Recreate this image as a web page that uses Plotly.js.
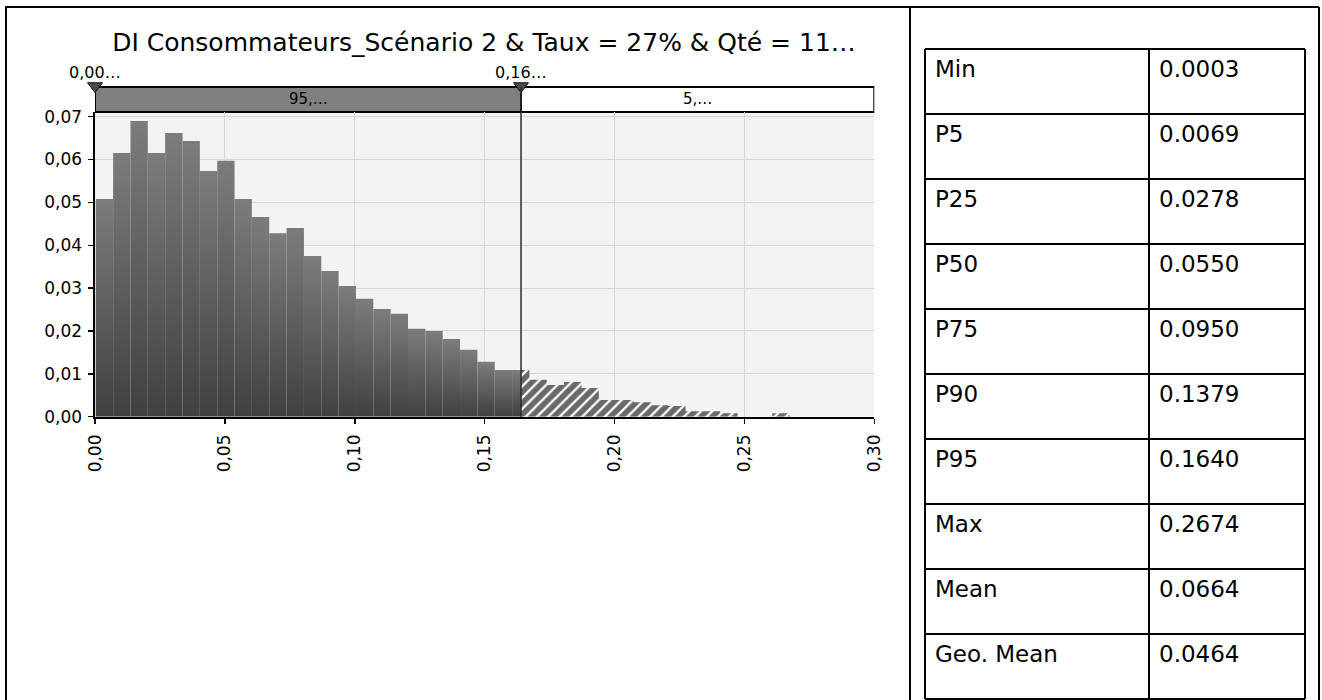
<!DOCTYPE html>
<html>
<head>
<meta charset="utf-8">
<script src="https://cdn.plot.ly/plotly-3.0.1.min.js"></script>
<style>html,body{margin:0;padding:0;background:#fff;}#chart{width:1322px;height:700px;}</style>
</head>
<body>
<div id="chart"></div>
<script>
// ---------- DATA ----------
const chartTitle = 'DI Consommateurs_Scénario 2 & Taux = 27% & Qté = 11…';
const binMin = 0.0003;
const binMax = 0.2674;
const relFreq = [
  0.0508, 0.0615, 0.0690, 0.0615, 0.0662, 0.0643, 0.0573, 0.0597, 0.0508, 0.0466,
  0.0428, 0.0440, 0.0375, 0.0340, 0.0305, 0.0275, 0.0251, 0.0240, 0.0205, 0.0200,
  0.0181, 0.0156, 0.0128, 0.0109, 0.0109, 0.0086, 0.0074, 0.0081, 0.0067, 0.0039,
  0.0039, 0.0034, 0.0027, 0.0025, 0.0013, 0.0013, 0.0008, 0.0000, 0.0000, 0.0008
];
const delimValues = [0.0, 0.164];
const delimLabels = ['0,00…', '0,16…'];
const bandLabels = ['95,…', '5,…'];
const xTickVals = [0, 0.05, 0.10, 0.15, 0.20, 0.25, 0.30];
const statLabels = ['Min', 'P5', 'P25', 'P50', 'P75', 'P90', 'P95', 'Max', 'Mean', 'Geo. Mean'];
const statValues = ['0.0003', '0.0069', '0.0278', '0.0550', '0.0950', '0.1379', '0.1640', '0.2674', '0.0664', '0.0464'];

// ---------- LAYOUT HELPERS ----------
const W = 1322, H = 700;
const px = x => x / W;
const py = y => 1 - y / H;
const FONT = 'DejaVu Sans, Verdana, sans-serif';
const plotLeft = 95, plotRight = 874.3, plotBottom = 416.7, plotTop = 112;
const xMax = 0.30;
const yPerUnit = 4286;
const yMax = (plotBottom - plotTop) / yPerUnit;

// ---------- TRACES ----------
const nBins = relFreq.length;
const bw = (binMax - binMin) / nBins;
const traces = [];
const cut = delimValues[1];
// solid (gradient) bars left of the cut
for (let i = 0; i < nBins; i++) {
  const a = binMin + i * bw;
  let b = binMin + (i + 1) * bw;
  if (a >= cut) break;
  if (b > cut) b = cut;
  const h = relFreq[i];
  traces.push({
    type: 'scatter', mode: 'none', x: [a, a, b, b, a], y: [0, h, h, 0, 0],
    fill: 'toself', hoverinfo: 'skip',
    fillgradient: {type: 'vertical', start: 0, stop: h,
      colorscale: [[0, '#404040'], [1, '#7c7c7c']]}
  });
}
// hatched tail right of the cut
const hx = [cut], hy = [0];
for (let i = 0; i < nBins; i++) {
  const a = binMin + i * bw, b = binMin + (i + 1) * bw;
  if (b <= cut) continue;
  const h = relFreq[i];
  hx.push(Math.max(a, cut), b);
  hy.push(h, h);
}
hx.push(binMin + nBins * bw, cut);
hy.push(0, 0);
traces.push({
  type: 'scatter', mode: 'none', x: hx, y: hy, fill: 'toself', hoverinfo: 'skip',
  fillcolor: '#696969',
  fillpattern: {shape: '/', bgcolor: '#696969', fgcolor: '#ffffff', size: 8, solidity: 0.28}
});
// delimiter triangles (on a helper subplot above the plot area)
traces.push({
  type: 'scatter', mode: 'markers', x: delimValues, y: delimValues.map(() => 0.5),
  xaxis: 'x2', yaxis: 'y2', cliponaxis: false, hoverinfo: 'skip',
  marker: {symbol: 'triangle-down', size: 13, color: '#4a4a4a', line: {color: '#111', width: 1}}
});

// ---------- SHAPES / ANNOTATIONS ----------
const shapes = [];
const annotations = [];
// plot background
shapes.push({type: 'rect', layer: 'below', xref: 'x domain', yref: 'y domain', x0: 0, x1: 1, y0: 0, y1: 1,
  fillcolor: '#f3f3f3', line: {width: 0}});
// band strip
const bandEdges = [delimValues[0], delimValues[1], xMax];
const bandFill = ['#808080', '#ffffff'];
for (let k = 0; k < 2; k++) {
  shapes.push({type: 'rect', layer: 'below', xref: 'x', yref: 'paper',
    x0: bandEdges[k], x1: bandEdges[k + 1], y0: py(112), y1: py(87),
    fillcolor: bandFill[k], line: {color: '#000', width: 2}});
  annotations.push({xref: 'x', yref: 'paper', x: (bandEdges[k] + bandEdges[k + 1]) / 2, y: py(99.5),
    text: bandLabels[k], showarrow: false, xanchor: 'center', yanchor: 'middle',
    font: {family: FONT, size: 15, color: '#000'}});
}
// delimiter labels
delimValues.forEach((v, k) => {
  annotations.push({xref: 'x', yref: 'paper', x: v, y: py(72), text: delimLabels[k],
    showarrow: false, xanchor: 'center', yanchor: 'middle',
    font: {family: FONT, size: 16, color: '#000'}});
});
// cut line
shapes.push({type: 'line', layer: 'above', xref: 'x', yref: 'paper', x0: cut, x1: cut,
  y0: py(plotBottom), y1: py(87), line: {color: '#2a2a2a', width: 1.5}});
// outer frames
const frame = {color: '#000', width: 2};
shapes.push({type: 'line', xref: 'paper', yref: 'paper', x0: px(5), x1: px(1319), y0: py(7), y1: py(7), line: frame});
shapes.push({type: 'line', xref: 'paper', yref: 'paper', x0: px(6), x1: px(6), y0: py(7), y1: py(700), line: frame});
shapes.push({type: 'line', xref: 'paper', yref: 'paper', x0: px(910), x1: px(910), y0: py(7), y1: py(700), line: frame});
shapes.push({type: 'line', xref: 'paper', yref: 'paper', x0: px(1319), x1: px(1319), y0: py(7), y1: py(700), line: frame});
// stats table
const tLeft = 925, tMid = 1149, tRight = 1305, tTop = 49, rowH = 65;
const nRows = statLabels.length;
for (let r = 0; r <= nRows; r++) {
  const y = tTop + r * rowH;
  shapes.push({type: 'line', xref: 'paper', yref: 'paper', x0: px(tLeft), x1: px(tRight), y0: py(y), y1: py(y), line: frame});
}
[tLeft, tMid, tRight].forEach(x => {
  shapes.push({type: 'line', xref: 'paper', yref: 'paper', x0: px(x), x1: px(x), y0: py(tTop), y1: py(tTop + nRows * rowH), line: frame});
});
for (let r = 0; r < nRows; r++) {
  const yc = tTop + r * rowH + 20;
  annotations.push({xref: 'paper', yref: 'paper', x: px(tLeft + 8), y: py(yc), text: statLabels[r],
    showarrow: false, xanchor: 'left', yanchor: 'middle', font: {family: FONT, size: 23, color: '#000'}});
  annotations.push({xref: 'paper', yref: 'paper', x: px(tMid + 8), y: py(yc), text: statValues[r],
    showarrow: false, xanchor: 'left', yanchor: 'middle', font: {family: FONT, size: 23, color: '#000'}});
}

const layout = {
  width: W, height: H,
  margin: {l: 0, r: 0, t: 0, b: 0, pad: 0},
  paper_bgcolor: '#ffffff', plot_bgcolor: 'rgba(0,0,0,0)',
  showlegend: false, separators: ',.',
  font: {family: FONT, color: '#000'},
  title: {text: chartTitle, x: px(484), y: py(42), xref: 'paper', yref: 'paper',
    xanchor: 'center', yanchor: 'middle', font: {family: FONT, size: 25, color: '#000'}},
  xaxis: {domain: [px(plotLeft), px(plotRight)], range: [0, xMax], tickvals: xTickVals,
    tickformat: '.2f', tickangle: -90, ticks: 'outside', ticklen: 5, tickwidth: 1.5, tickcolor: '#000',
    showline: true, linecolor: '#000', linewidth: 2, showgrid: true, gridcolor: '#d6d6d6', gridwidth: 1,
    zeroline: false, fixedrange: true, ticklabelstandoff: 4,
    tickfont: {family: FONT, size: 17, color: '#000'}},
  yaxis: {domain: [py(plotBottom), py(plotTop)], range: [0, yMax], dtick: 0.01, tick0: 0,
    tickformat: '.2f', ticks: 'outside', ticklen: 5, tickwidth: 1.5, tickcolor: '#000',
    showline: true, linecolor: '#000', linewidth: 2.5, showgrid: true, gridcolor: '#d6d6d6', gridwidth: 1,
    zeroline: false, fixedrange: true, ticklabelstandoff: 2,
    tickfont: {family: FONT, size: 17, color: '#000'}},
  xaxis2: {domain: [px(plotLeft), px(plotRight)], range: [0, xMax], anchor: 'y2', visible: false,
    showgrid: false, zeroline: false, fixedrange: true},
  yaxis2: {domain: [py(94), py(78)], range: [0, 1], anchor: 'x2', visible: false,
    showgrid: false, zeroline: false, fixedrange: true},
  shapes: shapes,
  annotations: annotations
};

Plotly.newPlot('chart', traces, layout, {staticPlot: true, displayModeBar: false});
</script>
</body>
</html>
